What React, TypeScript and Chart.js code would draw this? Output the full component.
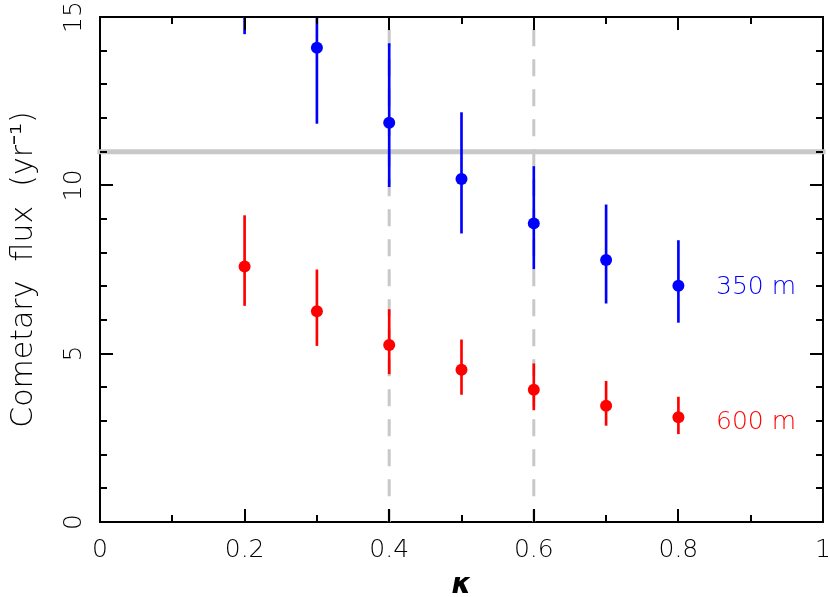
import { useEffect, useRef } from 'react';
import { Chart, registerables } from 'chart.js';

Chart.register(...registerables);

// ---- data ----
const kappa = [0.2, 0.3, 0.4, 0.5, 0.6, 0.7, 0.8];
const flux350 = [17.3, 14.09, 11.86, 10.19, 8.87, 7.78, 7.02];
const flux350Low = [14.5, 11.84, 9.96, 8.58, 7.52, 6.5, 5.93];
const flux350High = [20.7, 16.8, 14.21, 12.16, 10.56, 9.42, 8.36];
const flux600 = [7.59, 6.26, 5.26, 4.52, 3.93, 3.45, 3.11];
const flux600Low = [6.43, 5.24, 4.4, 3.79, 3.33, 2.87, 2.62];
const flux600High = [9.1, 7.49, 6.31, 5.41, 4.7, 4.18, 3.71];
const referenceFlux = 11;
const kappaMarks = [0.4, 0.6];
const xRange = [0, 1];
const yRange = [0, 15];
const xMajorStep = 0.2;
const xMinorStep = 0.1;
const yMajorStep = 5;
const yMinorStep = 1;
const seriesLabels = ['350 m', '600 m'];
const seriesLabelX = [0.852, 0.852];
const seriesLabelY = [6.97, 2.95];

const BLUE = '#0000ff';
const RED = '#ff0000';
const GREY = '#c8c8c8';
const FONT = '"DejaVu Sans", sans-serif';
const WEIGHT = 200;

const framePlugin = {
  id: 'frameTicks',
  afterDraw(chart: any) {
    const { ctx, chartArea: a } = chart;
    const xs = chart.scales.x;
    const ys = chart.scales.y;
    ctx.save();
    ctx.strokeStyle = '#000';
    ctx.lineWidth = 2;
    ctx.lineCap = 'butt';
    const seg = (x1: number, y1: number, x2: number, y2: number) => {
      ctx.beginPath();
      ctx.moveTo(x1, y1);
      ctx.lineTo(x2, y2);
      ctx.stroke();
    };
    const nx = Math.round((xRange[1] - xRange[0]) / xMinorStep);
    const xRatio = Math.round(xMajorStep / xMinorStep);
    for (let i = 1; i < nx; i++) {
      const px = Math.round(xs.getPixelForValue(xRange[0] + i * xMinorStep));
      const len = i % xRatio === 0 ? 13 : 7;
      seg(px, a.bottom, px, a.bottom - len);
      seg(px, a.top, px, a.top + len);
    }
    const ny = Math.round((yRange[1] - yRange[0]) / yMinorStep);
    const yRatio = Math.round(yMajorStep / yMinorStep);
    for (let i = 1; i < ny; i++) {
      const py = Math.round(ys.getPixelForValue(yRange[0] + i * yMinorStep));
      const len = i % yRatio === 0 ? 13 : 7;
      seg(a.left, py, a.left + len, py);
      seg(a.right, py, a.right - len, py);
    }
    ctx.font = `${WEIGHT} 25px ${FONT}`;
    ctx.textAlign = 'left';
    ctx.textBaseline = 'middle';
    const colors = [BLUE, RED];
    seriesLabels.forEach((t, i) => {
      ctx.fillStyle = colors[i];
      ctx.fillText(t, xs.getPixelForValue(seriesLabelX[i]), ys.getPixelForValue(seriesLabelY[i]));
    });
    ctx.restore();
  },
};

export default function App() {
  const ref = useRef<HTMLCanvasElement | null>(null);
  useEffect(() => {
    if (!ref.current) return;
    const errorBars = (lo: number[], hi: number[]) => kappa.map((x, i) => ({ x, y: [lo[i], hi[i]] }));
    const points = (v: number[]) => kappa.map((x, i) => ({ x, y: v[i] }));
    const chart = new Chart(ref.current, {
      type: 'scatter',
      data: {
        datasets: [
          {
            type: 'line',
            data: [
              { x: xRange[0], y: referenceFlux },
              { x: xRange[1], y: referenceFlux },
            ],
            borderColor: GREY,
            borderWidth: 5,
            borderCapStyle: 'square',
            pointRadius: 0,
            showLine: true,
            clip: 4,
            order: 10,
          } as any,
          ...kappaMarks.map((k) => ({
            type: 'line',
            data: [
              { x: k, y: yRange[1] },
              { x: k, y: yRange[0] },
            ],
            borderColor: GREY,
            borderWidth: 3,
            borderDash: [17, 13],
            borderDashOffset: 17.7,
            pointRadius: 0,
            showLine: true,
            order: 11,
          })) as any[],
          {
            type: 'bar',
            data: errorBars(flux350Low, flux350High),
            backgroundColor: BLUE,
            borderWidth: 0,
            barThickness: 2,
            grouped: false,
            order: 3,
          } as any,
          {
            type: 'bar',
            data: errorBars(flux600Low, flux600High),
            backgroundColor: RED,
            borderWidth: 0,
            barThickness: 2,
            grouped: false,
            order: 3,
          } as any,
          {
            type: 'scatter',
            data: points(flux350),
            backgroundColor: BLUE,
            borderWidth: 0,
            pointRadius: 6,
            order: 1,
          } as any,
          {
            type: 'scatter',
            data: points(flux600),
            backgroundColor: RED,
            borderWidth: 0,
            pointRadius: 6,
            order: 1,
          } as any,
        ],
      },
      options: {
        responsive: false,
        animation: false,
        events: [],
        layout: { padding: { left: 0, top: 17, right: 7, bottom: 0 } },
        plugins: { legend: { display: false }, tooltip: { enabled: false } },
        scales: {
          x: {
            type: 'linear',
            position: 'bottom',
            min: xRange[0],
            max: xRange[1],
            offset: false,
            grid: { display: false, drawTicks: false, offset: false },
            border: { display: true, color: '#000', width: 2 },
            ticks: {
              stepSize: xMajorStep,
              padding: 13,
              color: '#000',
              font: { family: FONT, size: 25, weight: WEIGHT },
              maxRotation: 0,
              callback: (v: any) => String(Number(Number(v).toFixed(1))),
            },
            title: {
              display: true,
              text: 'κ',
              color: '#000',
              font: { family: FONT, size: 28, style: 'italic', weight: 'bold', lineHeight: 0.8 },
              padding: { top: 0, bottom: 0 },
            },
            afterFit: (s: any) => {
              s.height = 75;
              s.paddingLeft = 0;
              s.paddingRight = 0;
            },
          },
          y: {
            type: 'linear',
            position: 'left',
            min: yRange[0],
            max: yRange[1],
            grid: { display: false, drawTicks: false },
            border: { display: true, color: '#000', width: 2 },
            ticks: {
              stepSize: yMajorStep,
              padding: 10,
              color: '#000',
              crossAlign: 'center',
              minRotation: 90,
              maxRotation: 90,
              font: { family: FONT, size: 25, weight: WEIGHT },
            },
            title: {
              display: true,
              text: 'Cometary  flux  (yr⁻¹)',
              color: '#000',
              font: { family: FONT, size: 30, weight: WEIGHT, lineHeight: 1.2 },
              padding: { top: 6, bottom: 0 },
            },
            afterFit: (s: any) => {
              s.width = 100;
              s.paddingTop = 0;
              s.paddingBottom = 0;
            },
          },
          x2: {
            type: 'linear',
            position: 'top',
            display: true,
            min: xRange[0],
            max: xRange[1],
            grid: { display: false, drawTicks: false },
            border: { display: true, color: '#000', width: 2 },
            ticks: { display: false },
            afterFit: (s: any) => {
              s.height = 0;
            },
          },
          y2: {
            type: 'linear',
            position: 'right',
            display: true,
            min: yRange[0],
            max: yRange[1],
            grid: { display: false, drawTicks: false },
            border: { display: true, color: '#000', width: 2 },
            ticks: { display: false },
            afterFit: (s: any) => {
              s.width = 0;
            },
          },
        },
      } as any,
      plugins: [framePlugin],
    });
    return () => chart.destroy();
  }, []);
  return (
    <div style={{ position: 'absolute', left: 0, top: 0, width: 830, height: 597, background: '#fff' }}>
      <canvas ref={ref} width={830} height={597} style={{ display: 'block' }} />
    </div>
  );
}
